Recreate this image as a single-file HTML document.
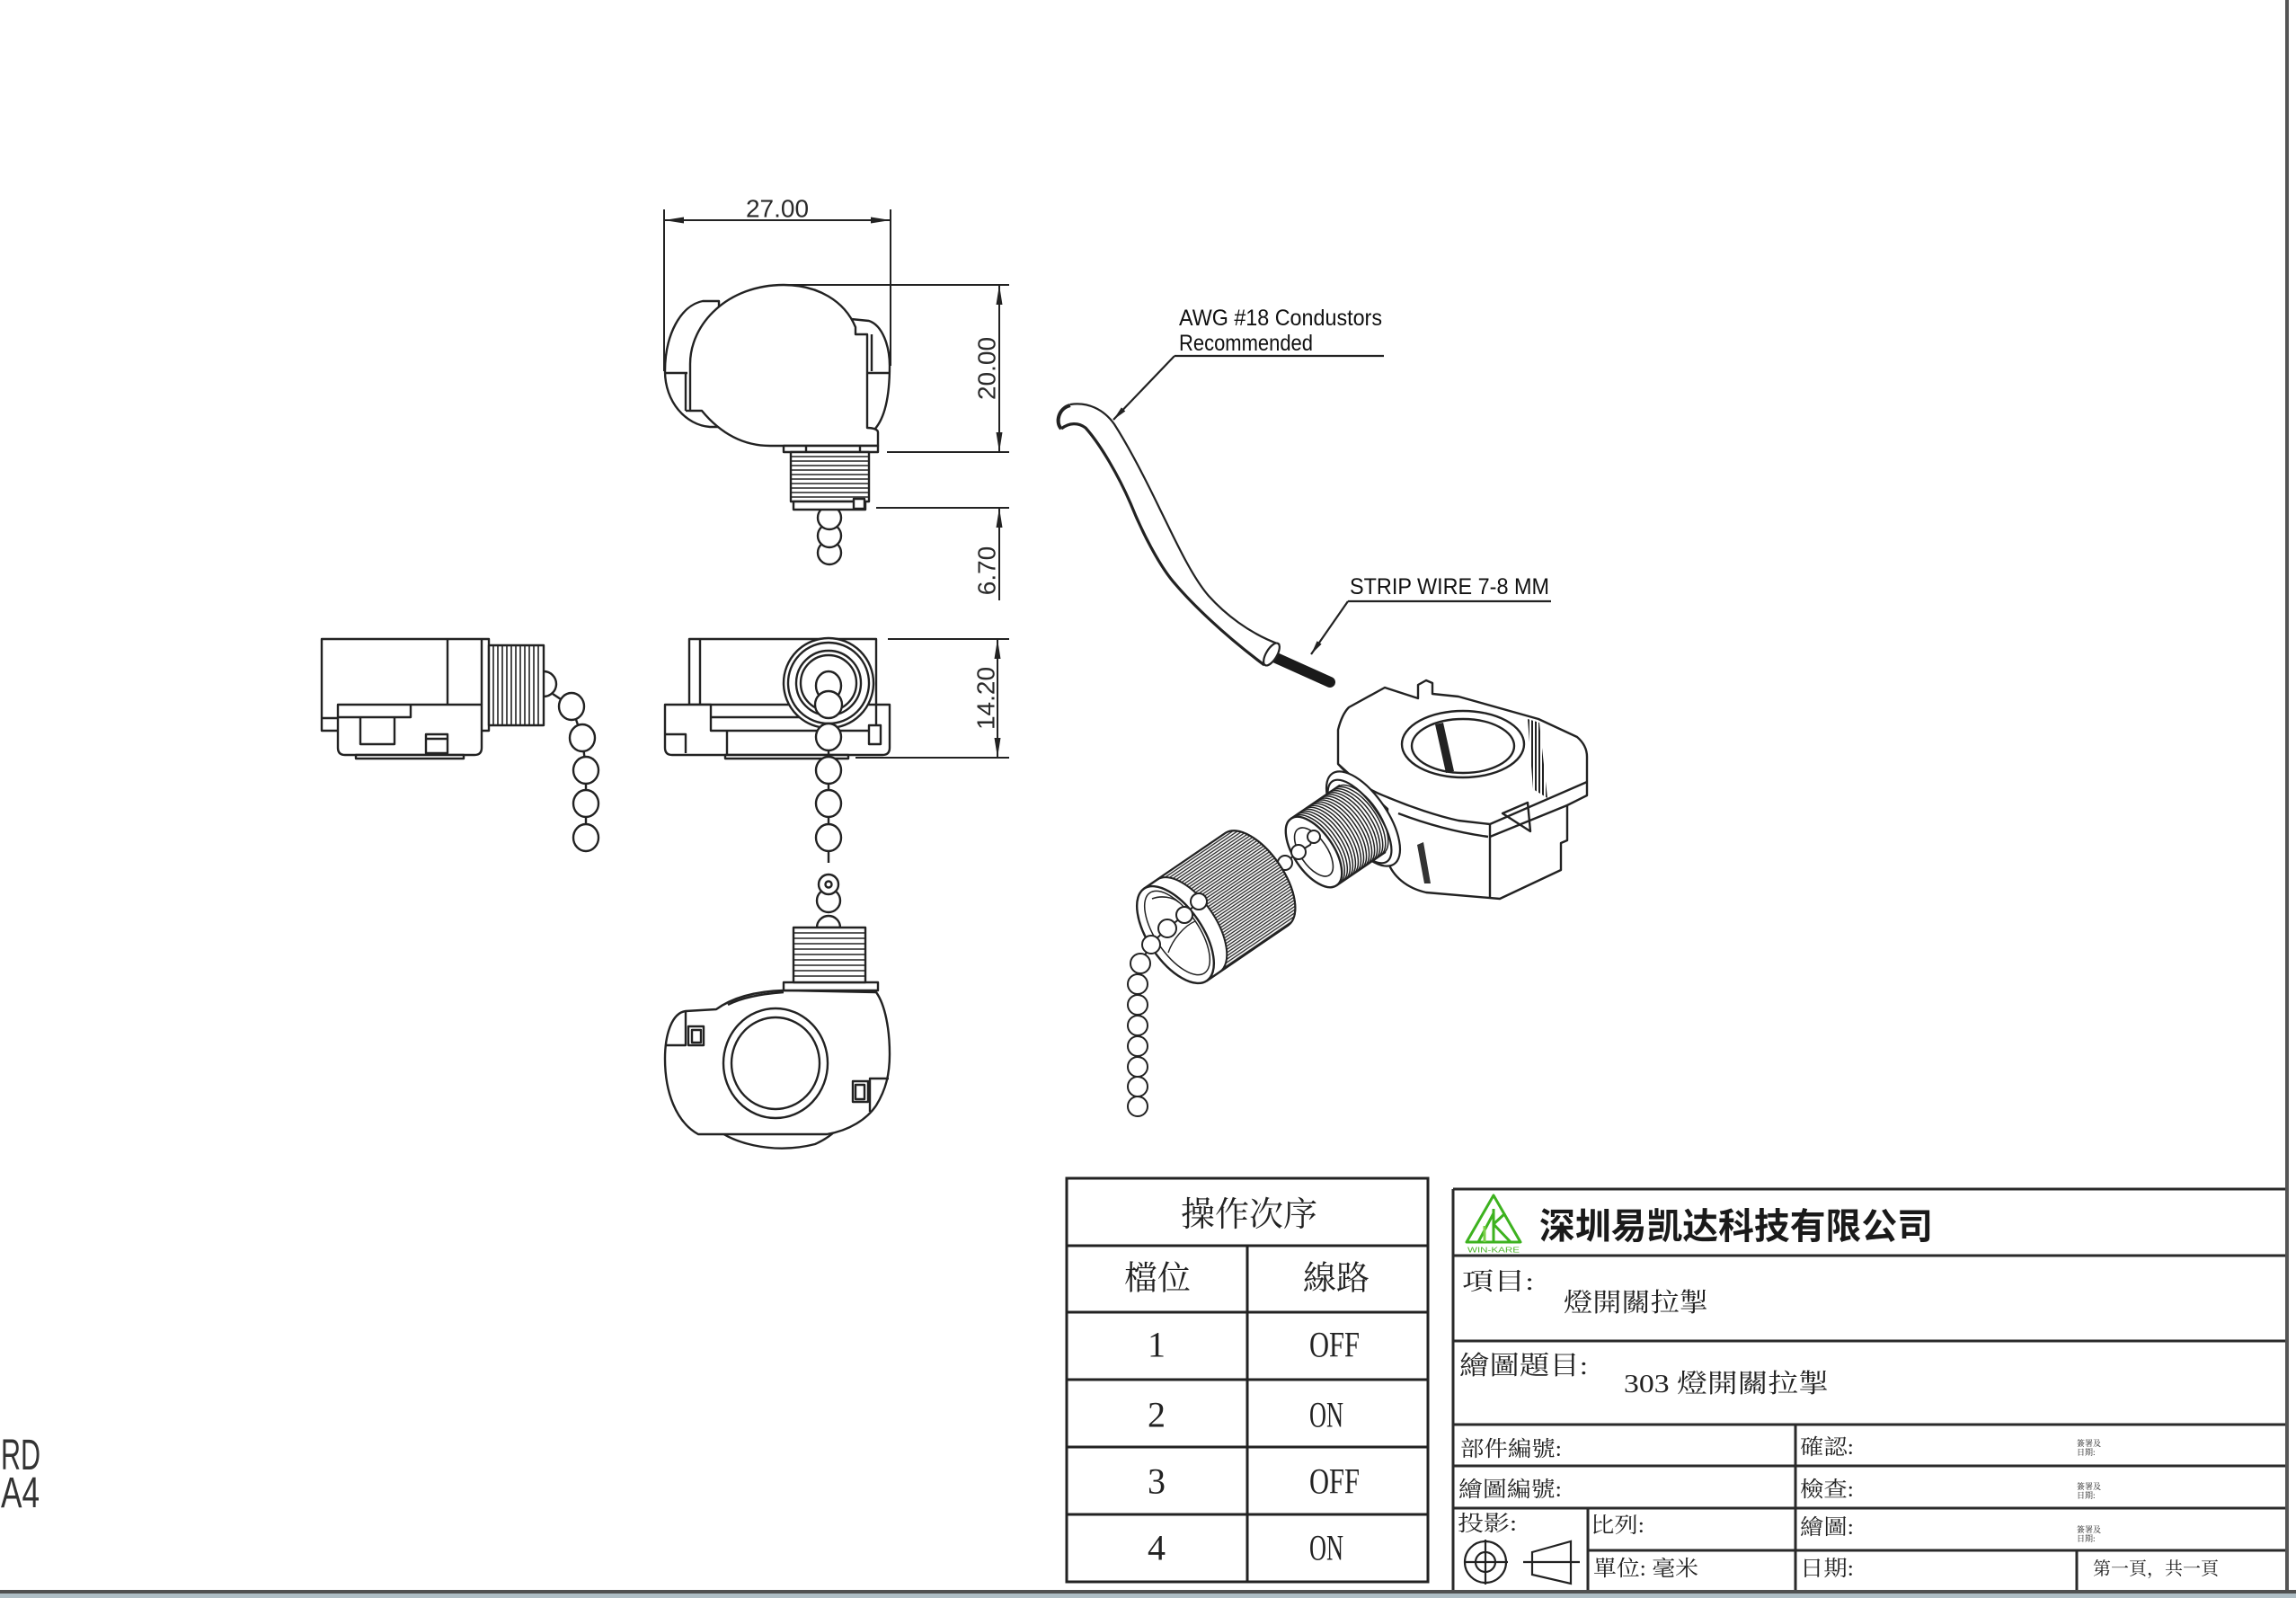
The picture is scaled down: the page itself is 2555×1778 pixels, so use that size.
<!DOCTYPE html>
<html><head><meta charset="utf-8">
<style>
html,body{margin:0;padding:0;background:#fff;}
svg{display:block;}
.dim{font-family:"Liberation Sans",sans-serif;font-size:28px;fill:#2a2a2a;}
.lbl{font-family:"Liberation Sans",sans-serif;font-size:25px;fill:#111;}
.rd{font-family:"Liberation Sans",sans-serif;font-size:48px;fill:#333;}
.tb{font-family:"Liberation Serif","Noto Serif CJK SC",serif;fill:#222;}
.co{font-family:"Liberation Sans","Noto Sans CJK SC",sans-serif;font-weight:700;font-size:40px;fill:#1a1a1a;}
</style></head><body>
<svg width="2555" height="1778" viewBox="0 0 2555 1778" xmlns="http://www.w3.org/2000/svg">
<defs>
<pattern id="knurl" width="3" height="3" patternUnits="userSpaceOnUse" patternTransform="rotate(-34.3)">
<rect width="3" height="3" fill="#fff"/><line x1="0" y1="1" x2="3" y2="1" stroke="#222" stroke-width="1.3"/>
</pattern>
<pattern id="vh" width="4" height="4" patternUnits="userSpaceOnUse">
<rect width="4" height="4" fill="#fff"/><line x1="1" y1="0" x2="1" y2="4" stroke="#222" stroke-width="2"/>
</pattern>
</defs>
<rect width="2555" height="1778" fill="#fff"/>

<!-- ============ TOP VIEW ============ -->
<g fill="none" stroke="#222" stroke-width="2">
<line x1="739" y1="233" x2="739" y2="413"/>
<line x1="991" y1="233" x2="991" y2="407"/>
<line x1="739" y1="245" x2="991" y2="245"/>
<line x1="877" y1="317" x2="1123" y2="317"/>
<line x1="987" y1="503" x2="1123" y2="503"/>
<line x1="1112" y1="317" x2="1112" y2="503"/>
<line x1="975" y1="565" x2="1123" y2="565"/>
<line x1="1112" y1="565" x2="1112" y2="668"/>
</g>
<g fill="#222">
<polygon points="739,245 761,241.5 761,248.5"/>
<polygon points="991,245 969,241.5 969,248.5"/>
<polygon points="1112,317 1108.5,339 1115.5,339"/>
<polygon points="1112,503 1108.5,481 1115.5,481"/>
<polygon points="1112,565 1108.5,587 1115.5,587"/>
</g>
<text class="dim" x="865" y="232" text-anchor="middle" dominant-baseline="central">27.00</text>
<text class="dim" transform="translate(1098,410) rotate(-90)" text-anchor="middle" dominant-baseline="central">20.00</text>
<text class="dim" transform="translate(1098,635) rotate(-90)" text-anchor="middle" dominant-baseline="central">6.70</text>

<g fill="#fff" stroke="#222" stroke-width="2.4" stroke-linejoin="round">
<path d="M800,335 L782,335 C757,340 740,373 740,413 C740,447 763,473 790,475 L800,475 Z"/>
<path d="M947,355 L967,357 C982,362 990,385 990,407 C990,440 985,465 973,478 L960,478 Z"/>
<line x1="740" y1="415" x2="765" y2="415"/>
<line x1="965" y1="415" x2="990" y2="415"/>
<circle cx="923" cy="615" r="13"/>
<circle cx="923" cy="596" r="13"/>
<circle cx="923" cy="576" r="13"/>
<path d="M952,364 C940,335 910,317 872,317 C810,317 768,360 768,405 L768,457 L781,457 C800,480 825,496 857,496 L977,496 L977,481 C977,478 972,476 965,476 L965,372 L952,372 Z"/>
<line x1="763" y1="415" x2="763" y2="457"/>
<line x1="763" y1="457" x2="768" y2="457"/>
<line x1="970" y1="372" x2="970" y2="413"/>
<rect x="872" y="496" width="105" height="7"/>
<line x1="897" y1="496" x2="897" y2="503"/>
<line x1="957" y1="496" x2="957" y2="503"/>
<rect x="880" y="503" width="87" height="55"/>
<rect x="883" y="558" width="80" height="9"/>
<rect x="950" y="555" width="12" height="11"/>
</g>
<g stroke="#222" stroke-width="1.6">
<line x1="880" y1="508" x2="967" y2="508"/><line x1="880" y1="513" x2="967" y2="513"/>
<line x1="880" y1="518" x2="967" y2="518"/><line x1="880" y1="523" x2="967" y2="523"/>
<line x1="880" y1="528" x2="967" y2="528"/><line x1="880" y1="533" x2="967" y2="533"/>
<line x1="880" y1="538" x2="967" y2="538"/><line x1="880" y1="543" x2="967" y2="543"/>
<line x1="880" y1="548" x2="967" y2="548"/><line x1="880" y1="553" x2="967" y2="553"/>
</g>

<!-- ============ LEFT SIDE VIEW ============ -->
<g fill="#fff" stroke="#222" stroke-width="2.4" stroke-linejoin="round">
<polyline fill="none" points="615,772 636,786 648,821 652,857 652,894 652,932"/>
<rect x="358" y="711" width="186" height="102"/>
<line x1="498" y1="711" x2="498" y2="784"/>
<line x1="358" y1="799" x2="376" y2="799"/>
<line x1="536" y1="711" x2="536" y2="784"/>
<path d="M376,784 L536,784 L536,832 Q536,840 528,840 L384,840 Q376,840 376,832 Z"/>
<polyline fill="none" points="376,798 457,798 457,784"/>
<polyline fill="none" points="401,798 401,828 439,828 439,798"/>
<rect x="474" y="817" width="24" height="21"/>
<line x1="474" y1="822" x2="498" y2="822"/>
<rect x="396" y="840" width="120" height="4"/>
<path d="M605,747 A14,14 0 0 1 605,775"/>
<rect x="544" y="718" width="61" height="89"/>
<ellipse cx="636" cy="786" rx="14" ry="15"/>
<ellipse cx="648" cy="821" rx="14" ry="15"/>
<ellipse cx="652" cy="857" rx="14" ry="15"/>
<ellipse cx="652" cy="894" rx="14" ry="15"/>
<ellipse cx="652" cy="932" rx="14" ry="15"/>
</g>
<g stroke="#222" stroke-width="1.6">
<line x1="549" y1="718" x2="549" y2="807"/><line x1="554" y1="718" x2="554" y2="807"/>
<line x1="559" y1="718" x2="559" y2="807"/><line x1="564" y1="718" x2="564" y2="807"/>
<line x1="569" y1="718" x2="569" y2="807"/><line x1="574" y1="718" x2="574" y2="807"/>
<line x1="579" y1="718" x2="579" y2="807"/><line x1="584" y1="718" x2="584" y2="807"/>
<line x1="589" y1="718" x2="589" y2="807"/><line x1="594" y1="718" x2="594" y2="807"/>
<line x1="599" y1="718" x2="599" y2="807"/>
</g>

<!-- ============ MIDDLE SIDE VIEW ============ -->
<g fill="none" stroke="#222" stroke-width="2">
<line x1="988" y1="711" x2="1123" y2="711"/>
<line x1="952" y1="843" x2="1123" y2="843"/>
<line x1="1110" y1="711" x2="1110" y2="843"/>
</g>
<g fill="#222">
<polygon points="1110,711 1106.5,733 1113.5,733"/>
<polygon points="1110,843 1106.5,821 1113.5,821"/>
</g>
<text class="dim" transform="translate(1097,777) rotate(-90)" text-anchor="middle" dominant-baseline="central">14.20</text>
<g fill="#fff" stroke="#222" stroke-width="2.4" stroke-linejoin="round">
<rect x="767" y="711" width="208" height="73"/>
<line x1="779" y1="711" x2="779" y2="784"/>
<path d="M740,784 L791,784 L791,813 L975,813 L975,784 L990,784 L990,832 Q990,840 982,840 L748,840 Q740,840 740,832 Z"/>
<line x1="791" y1="798" x2="911" y2="798"/>
<line x1="809" y1="813" x2="809" y2="840"/>
<polyline fill="none" points="740,817 763,817 763,838"/>
<rect x="807" y="840" width="137" height="4"/>
<rect x="967" y="807" width="13" height="21"/>
<polyline fill="none" points="922,770 922,960"/>
<circle cx="922" cy="760" r="50"/>
<circle cx="922" cy="760" r="45"/>
<circle cx="922" cy="760" r="36"/>
<circle cx="922" cy="760" r="31"/>
<ellipse cx="922" cy="763" rx="14" ry="16"/>
<circle cx="922" cy="784" r="15"/>
<ellipse cx="922" cy="820" rx="14" ry="15"/>
<ellipse cx="922" cy="857" rx="14" ry="15"/>
<ellipse cx="922" cy="894" rx="14" ry="15"/>
<ellipse cx="922" cy="932" rx="14" ry="15"/>
</g>

<!-- ============ BOTTOM VIEW ============ -->
<g fill="#fff" stroke="#222" stroke-width="2.4" stroke-linejoin="round">
<path d="M909,1032 A13,13 0 0 1 935,1032 Z"/>
<circle cx="922" cy="1002" r="13"/>
<circle cx="922" cy="984" r="11"/>
<circle cx="922" cy="984" r="3.5"/>
<path d="M790,1250 C810,1272 860,1285 907,1273 C925,1265 935,1255 945,1238 Z"/>
<path d="M797,1123 L763,1125 C748,1127 740,1150 740,1178 C740,1215 752,1248 777,1262 L920,1262 C945,1258 965,1245 975,1230 C986,1212 990,1195 990,1173 C990,1145 985,1118 975,1104 L872,1102 C840,1103 815,1110 797,1123 Z"/>
<path fill="none" d="M810,1118 C825,1110 845,1106 872,1104"/>
<polyline fill="none" points="763,1125 763,1163 741,1163"/>
<rect x="766" y="1142" width="17" height="21"/>
<rect x="770" y="1146" width="10" height="14"/>
<polyline fill="none" points="968,1237 968,1200 989,1200"/>
<rect x="949" y="1203" width="17" height="23"/>
<rect x="952" y="1207" width="10" height="16"/>
<ellipse cx="863" cy="1183" rx="58" ry="61"/>
<ellipse cx="863" cy="1183" rx="49" ry="51"/>
<rect x="872" y="1093" width="105" height="9"/>
<rect x="883" y="1032" width="80" height="61"/>
</g>
<g stroke="#222" stroke-width="1.6">
<line x1="883" y1="1038" x2="963" y2="1038"/><line x1="883" y1="1044" x2="963" y2="1044"/>
<line x1="883" y1="1050" x2="963" y2="1050"/><line x1="883" y1="1056" x2="963" y2="1056"/>
<line x1="883" y1="1062" x2="963" y2="1062"/><line x1="883" y1="1068" x2="963" y2="1068"/>
<line x1="883" y1="1074" x2="963" y2="1074"/><line x1="883" y1="1080" x2="963" y2="1080"/>
<line x1="883" y1="1086" x2="963" y2="1086"/>
</g>

<!-- ============ WIRE + LEADERS ============ -->
<g fill="none" stroke="#222" stroke-width="2.2">
<path d="M1191,450 C1210,447 1228,455 1240,472 C1258,500 1278,540 1291,567 C1305,595 1325,640 1345,663 C1362,682 1390,705 1424,717"/>
<path stroke-width="3.2" d="M1181,477 C1190,470 1200,470 1208,476 C1225,495 1245,530 1258,560 C1270,590 1290,630 1308,650 C1325,670 1360,705 1407,740"/>
<path stroke-width="4" d="M1191,451 C1178,454 1174,470 1181,477"/>
<line x1="1307" y1="396" x2="1540" y2="396"/>
<line x1="1307" y1="396" x2="1239" y2="467"/>
<line x1="1500" y1="669" x2="1726" y2="669"/>
<line x1="1500" y1="669" x2="1459" y2="728"/>
</g>
<line x1="1420" y1="732" x2="1480" y2="759" stroke="#1a1a1a" stroke-width="12" stroke-linecap="round"/>
<ellipse cx="1415" cy="728" rx="6" ry="14" transform="rotate(31 1415 728)" fill="#fff" stroke="#222" stroke-width="2.2"/>
<g fill="#222">
<polygon points="1239,467 1252.3,457.5 1247.9,453.4"/>
<polygon points="1459,728 1470.6,716.6 1465.6,713.2"/>
</g>
<text class="lbl" x="1312" y="362" textLength="226" lengthAdjust="spacingAndGlyphs">AWG #18 Condustors</text>
<text class="lbl" x="1312" y="390" textLength="149" lengthAdjust="spacingAndGlyphs">Recommended</text>
<text class="lbl" x="1502" y="661" textLength="222" lengthAdjust="spacingAndGlyphs">STRIP WIRE 7-8 MM</text>

<!-- ============ EXPLODED VIEW ============ -->
<g fill="#fff" stroke="#222" stroke-width="2.4" stroke-linejoin="round">
<path d="M1489,850 L1489,812 C1492,800 1496,792 1501,787 L1541,765 L1578,777 L1578,762 L1587,757 L1594,760 L1594,772 L1623,775 L1712,800 L1755,820 C1762,826 1766,833 1766,842 L1766,885 L1744,896 L1744,935 L1737,938 L1737,968 L1669,1000 L1587,993 C1565,988 1550,975 1544,958 L1544,900 Z"/>
<path fill="none" d="M1489,850 C1505,868 1525,880 1544,887 C1570,898 1600,908 1623,913 L1658,917 L1766,870"/>
<path fill="none" d="M1556,905 C1585,916 1620,926 1656,931"/>
<line x1="1658" y1="917" x2="1658" y2="1000"/>
<line x1="1658" y1="931" x2="1744" y2="896"/>
<polygon fill="none" points="1672,905 1700,893 1703,925"/>
<ellipse cx="1628" cy="828" rx="68" ry="37"/>
<ellipse cx="1628" cy="830" rx="57" ry="30"/>
</g>
<g stroke="none">
<polygon fill="#222" points="1597,806 1606,804 1618,858 1609,860"/>
<polygon fill="url(#vh)" points="1700,800 1713,804 1722,888 1706,878"/>
<polygon fill="#333" points="1577,940 1584,937 1592,983 1585,983"/>
</g>
<!-- collar ring -->
<g fill="#fff" stroke="#222" stroke-width="2.2">
<ellipse cx="1517" cy="911" rx="27" ry="61" transform="rotate(-34.3 1517 911)"/>
<ellipse cx="1513" cy="914" rx="22" ry="54" transform="rotate(-34.3 1513 914)"/>
</g>
<!-- thread cylinder -->
<g transform="translate(1462,948)" stroke="#222" stroke-linejoin="round">
<polygon points="25.4,37.2 79.9,0 29.1,-74.4 -25.4,-37.2" fill="#fff" stroke="none"/>
<line x1="25.4" y1="37.2" x2="79.9" y2="0" stroke-width="2.2"/>
<line x1="-25.4" y1="-37.2" x2="29.1" y2="-74.4" stroke-width="2.2"/>
<g fill="none" stroke-width="1.5">
<path id="ta" d="M25.4,37.2 A22,45 -34.3 0 0 -25.4,-37.2"/>
<use href="#ta" x="3.03" y="-2.07"/><use href="#ta" x="6.06" y="-4.14"/>
<use href="#ta" x="9.09" y="-6.21"/><use href="#ta" x="12.12" y="-8.28"/>
<use href="#ta" x="15.15" y="-10.35"/><use href="#ta" x="18.18" y="-12.42"/>
<use href="#ta" x="21.21" y="-14.49"/><use href="#ta" x="24.24" y="-16.56"/>
<use href="#ta" x="27.27" y="-18.63"/><use href="#ta" x="30.3" y="-20.7"/>
<use href="#ta" x="33.33" y="-22.77"/><use href="#ta" x="36.36" y="-24.84"/>
<use href="#ta" x="39.39" y="-26.91"/><use href="#ta" x="42.42" y="-28.98"/>
<use href="#ta" x="45.45" y="-31.05"/><use href="#ta" x="48.48" y="-33.12"/>
<use href="#ta" x="51.51" y="-35.19"/>
</g>
<ellipse cx="0" cy="0" rx="22" ry="45" transform="rotate(-34.3)" fill="#fff" stroke-width="2.4"/>
<ellipse cx="0" cy="0" rx="15" ry="31" transform="rotate(-34.3)" fill="none" stroke-width="1.6"/>
</g>
<!-- chain between cap and stem -->
<g fill="#fff" stroke="#222" stroke-width="2">
<polyline fill="none" points="1430,960 1445,948 1458,940 1462,930"/>
<circle cx="1462" cy="931" r="7"/>
<circle cx="1445" cy="948" r="8"/>
<circle cx="1430" cy="960" r="8"/>
</g>
<!-- knurled cap -->
<g stroke="#222" stroke-linejoin="round">
<path d="M1343.0,1091.2 L1433.8,1029.2 A30,62 -34.3 0 0 1363.9,926.8 L1273.0,988.8 Z" fill="#fff" stroke-width="2.4"/>
<path d="M1357.8,1081.0 A30,62 -34.3 0 0 1287.9,978.6 L1363.9,926.8 A30,62 -34.3 0 1 1433.8,1029.2 Z" fill="url(#knurl)" stroke-width="2"/>
<ellipse cx="1308" cy="1040" rx="30" ry="62" transform="rotate(-34.3 1308 1040)" fill="#fff" stroke-width="2.4"/>
<ellipse cx="1310" cy="1038" rx="24" ry="54" transform="rotate(-34.3 1310 1038)" fill="none" stroke-width="1.5"/>
<path d="M1282,1000 C1292,996 1305,998 1312,1004" fill="none" stroke-width="1.6"/>
<path d="M1300,1060 C1305,1045 1318,1030 1330,1025" fill="none" stroke-width="1.4"/>
</g>
<g fill="#fff" stroke="#222" stroke-width="2">
<polyline fill="none" points="1334,1003 1318,1018 1299,1033 1281,1050 1269,1072 1266,1095 1266,1231"/>
<circle cx="1334" cy="1003" r="9"/>
<circle cx="1318" cy="1018" r="9"/>
<circle cx="1299" cy="1033" r="10"/>
<circle cx="1281" cy="1051" r="10"/>
<circle cx="1269" cy="1072" r="11"/>
<circle cx="1266" cy="1095" r="11"/>
<circle cx="1266" cy="1118" r="11"/>
<circle cx="1266" cy="1141" r="11"/>
<circle cx="1266" cy="1164" r="11"/>
<circle cx="1266" cy="1187" r="11"/>
<circle cx="1266" cy="1209" r="11"/>
<circle cx="1266" cy="1231" r="11"/>
</g>

<!-- ============ RD / A4 ============ -->
<text class="rd" x="1" y="1635" textLength="44" lengthAdjust="spacingAndGlyphs">RD</text>
<text class="rd" x="1" y="1677" textLength="43" lengthAdjust="spacingAndGlyphs">A4</text>

<!-- ============ OPERATION TABLE ============ -->
<g fill="none" stroke="#222" stroke-width="3">
<rect x="1187" y="1311" width="402" height="449"/>
<line x1="1187" y1="1386" x2="1589" y2="1386"/>
<line x1="1187" y1="1460" x2="1589" y2="1460"/>
<line x1="1187" y1="1535" x2="1589" y2="1535"/>
<line x1="1187" y1="1610" x2="1589" y2="1610"/>
<line x1="1187" y1="1685" x2="1589" y2="1685"/>
<line x1="1388" y1="1386" x2="1388" y2="1760"/>
</g>
<g class="tb" dominant-baseline="central">
<text x="1390" y="1352" font-size="38" text-anchor="middle">操作次序</text>
<text x="1288" y="1423" font-size="37" text-anchor="middle">檔位</text>
<text x="1487" y="1423" font-size="37" text-anchor="middle">線路</text>
<text x="1287" y="1496" font-size="40" text-anchor="middle">1</text>
<text x="1457" y="1496" font-size="40" textLength="56" lengthAdjust="spacingAndGlyphs">OFF</text>
<text x="1287" y="1574" font-size="40" text-anchor="middle">2</text>
<text x="1457" y="1574" font-size="40" textLength="38" lengthAdjust="spacingAndGlyphs">ON</text>
<text x="1287" y="1648" font-size="40" text-anchor="middle">3</text>
<text x="1457" y="1648" font-size="40" textLength="56" lengthAdjust="spacingAndGlyphs">OFF</text>
<text x="1287" y="1722" font-size="40" text-anchor="middle">4</text>
<text x="1457" y="1722" font-size="40" textLength="38" lengthAdjust="spacingAndGlyphs">ON</text>
</g>

<!-- ============ TITLE BLOCK ============ -->
<g fill="none" stroke="#2a2a2a" stroke-width="3">
<line x1="1617" y1="1323" x2="2545" y2="1323"/>
<line x1="1617" y1="1323" x2="1617" y2="1770"/>
<line x1="1617" y1="1397" x2="2545" y2="1397"/>
<line x1="1617" y1="1492" x2="2545" y2="1492"/>
<line x1="1617" y1="1585" x2="2545" y2="1585"/>
<line x1="1617" y1="1631" x2="2545" y2="1631"/>
<line x1="1617" y1="1678" x2="2545" y2="1678"/>
<line x1="1767" y1="1725" x2="2545" y2="1725"/>
<line x1="1767" y1="1678" x2="1767" y2="1770"/>
<line x1="1998" y1="1585" x2="1998" y2="1770"/>
<line x1="2311" y1="1725" x2="2311" y2="1770"/>
</g>
<!-- logo -->
<g fill="none" stroke="#3db21f" stroke-width="3" stroke-linejoin="round">
<polygon points="1632,1382 1662,1330 1692,1382"/>
<line x1="1645" y1="1382" x2="1662" y2="1350"/>
<line x1="1662" y1="1345" x2="1662" y2="1382"/>
<line x1="1662" y1="1362" x2="1681" y2="1382"/>
<line x1="1662" y1="1362" x2="1675" y2="1350"/>
<line x1="1652" y1="1382" x2="1652" y2="1364" stroke="#7cd04a"/>
</g>
<text x="1662" y="1391" font-family="Liberation Sans, sans-serif" font-size="8" fill="#4cb52a" text-anchor="middle" dominant-baseline="central" textLength="58" lengthAdjust="spacingAndGlyphs">WIN-KARE</text>
<text class="co" x="1713" y="1365" dominant-baseline="central" textLength="438" lengthAdjust="spacingAndGlyphs">深圳易凯达科技有限公司</text>

<g class="tb" dominant-baseline="central" fill="#2a2a2a">
<text x="1627" y="1426" font-size="27" textLength="80" lengthAdjust="spacingAndGlyphs">項目:</text>
<text x="1740" y="1450" font-size="29" textLength="161" lengthAdjust="spacingAndGlyphs">燈開關拉掣</text>
<text x="1624" y="1520" font-size="29" textLength="143" lengthAdjust="spacingAndGlyphs">繪圖題目:</text>
<text x="1807" y="1540" font-size="29" textLength="228" lengthAdjust="spacingAndGlyphs">303 燈開關拉掣</text>
<text x="1625" y="1613" font-size="24" textLength="113" lengthAdjust="spacingAndGlyphs">部件編號:</text>
<text x="1623" y="1658" font-size="24" textLength="115" lengthAdjust="spacingAndGlyphs">繪圖編號:</text>
<text x="1622" y="1696" font-size="24" textLength="66" lengthAdjust="spacingAndGlyphs">投影:</text>
<text x="1770" y="1698" font-size="24" textLength="60" lengthAdjust="spacingAndGlyphs">比列:</text>
<text x="1773" y="1746" font-size="24" textLength="117" lengthAdjust="spacingAndGlyphs">單位: 毫米</text>
<text x="2003" y="1611" font-size="24" textLength="60" lengthAdjust="spacingAndGlyphs">確認:</text>
<text x="2003" y="1658" font-size="24" textLength="60" lengthAdjust="spacingAndGlyphs">檢查:</text>
<text x="2003" y="1700" font-size="24" textLength="60" lengthAdjust="spacingAndGlyphs">繪圖:</text>
<text x="2003" y="1746" font-size="24" textLength="60" lengthAdjust="spacingAndGlyphs">日期:</text>
<text x="2311" y="1606" font-size="9">簽署及</text>
<text x="2311" y="1616" font-size="9">日期:</text>
<text x="2311" y="1654" font-size="9">簽署及</text>
<text x="2311" y="1664" font-size="9">日期:</text>
<text x="2311" y="1702" font-size="9">簽署及</text>
<text x="2311" y="1712" font-size="9">日期:</text>
<text x="2329" y="1746" font-size="20" textLength="140" lengthAdjust="spacingAndGlyphs">第一頁，共一頁</text>
</g>
<!-- projection symbol -->
<g fill="none" stroke="#222" stroke-width="2.2">
<circle cx="1653" cy="1738" r="23"/>
<circle cx="1653" cy="1738" r="11"/>
<line x1="1630" y1="1738" x2="1678" y2="1738"/>
<line x1="1653" y1="1713" x2="1653" y2="1763"/>
<polygon points="1705,1727 1748,1715 1748,1762 1705,1752"/>
<line x1="1695" y1="1738" x2="1758" y2="1738"/>
</g>

<!-- ============ FRAME ============ -->
<line x1="2545" y1="0" x2="2545" y2="1770" stroke="#555" stroke-width="4"/>
<rect x="0" y="1769" width="2555" height="4" fill="#505050"/>
<rect x="0" y="1773" width="2555" height="5" fill="#aebdc4"/>
</svg>
</body></html>
